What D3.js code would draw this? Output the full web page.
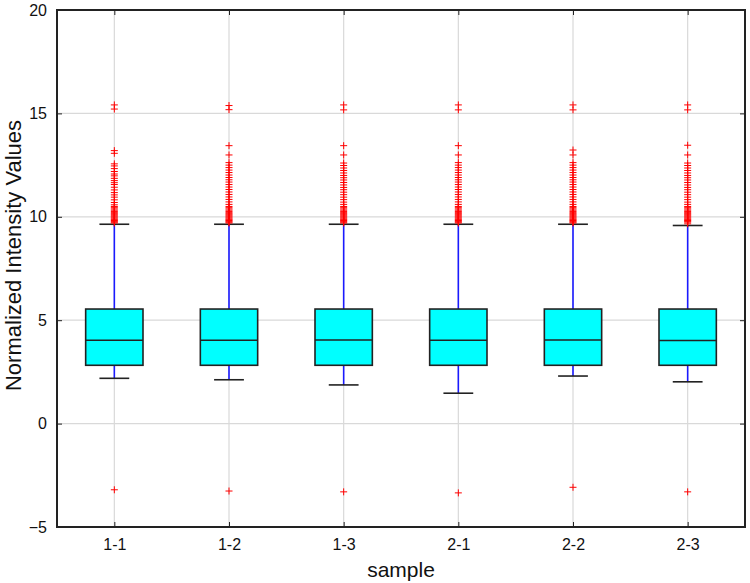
<!DOCTYPE html>
<html>
<head>
<meta charset="utf-8">
<script src="https://cdn.jsdelivr.net/npm/d3@7"></script>
<style>
  html, body { margin: 0; padding: 0; background: #fff; }
  svg text { font-family: Arial, "Liberation Sans", Helvetica, sans-serif; }
</style>
</head>
<body>
<svg id="chart" width="750" height="583"></svg>
<script>
const categories = ["1-1", "1-2", "1-3", "2-1", "2-2", "2-3"];
const q1 =        [2.82, 2.82, 2.82, 2.82, 2.82, 2.82];
const medians =   [4.03, 4.03, 4.04, 4.03, 4.04, 4.02];
const q3 =        [5.54, 5.54, 5.54, 5.54, 5.54, 5.54];
const whiskerLow =  [2.19, 2.12, 1.87, 1.47, 2.30, 2.02];
const whiskerHigh = [9.64, 9.64, 9.64, 9.64, 9.64, 9.58];
const outliersLow = [[-3.20], [-3.26], [-3.30], [-3.35], [-3.08], [-3.30]];
const outliersHigh = [
  [15.41, 15.21, 13.20, 13.07, 12.56, 12.46, 12.33, 12.19, 12.07, 11.98, 11.86, 11.75, 11.65, 11.56, 11.43, 11.30, 11.17, 11.06, 10.95, 10.82, 10.69, 10.58, 10.50, 10.44, 10.38, 10.32, 10.26, 10.20, 10.15, 10.10, 10.05, 10.00, 9.95, 9.90, 9.86, 9.82, 9.78, 9.74, 9.70],
  [15.38, 15.18, 13.44, 12.99, 12.62, 12.50, 12.38, 12.26, 12.14, 12.02, 11.90, 11.79, 11.68, 11.56, 11.44, 11.32, 11.20, 11.08, 10.96, 10.84, 10.72, 10.60, 10.50, 10.44, 10.38, 10.32, 10.26, 10.20, 10.15, 10.10, 10.05, 10.00, 9.95, 9.90, 9.86, 9.82, 9.78, 9.74, 9.70],
  [15.41, 15.17, 13.44, 12.99, 12.60, 12.48, 12.36, 12.24, 12.12, 12.00, 11.89, 11.78, 11.66, 11.54, 11.42, 11.31, 11.19, 11.07, 10.95, 10.83, 10.71, 10.60, 10.50, 10.44, 10.38, 10.32, 10.26, 10.20, 10.15, 10.10, 10.05, 10.00, 9.95, 9.90, 9.86, 9.82, 9.78, 9.74, 9.70],
  [15.41, 15.17, 13.44, 12.99, 12.62, 12.50, 12.38, 12.26, 12.14, 12.02, 11.90, 11.79, 11.68, 11.56, 11.44, 11.32, 11.20, 11.08, 10.96, 10.84, 10.72, 10.60, 10.50, 10.44, 10.38, 10.32, 10.26, 10.20, 10.15, 10.10, 10.05, 10.00, 9.95, 9.90, 9.86, 9.82, 9.78, 9.74, 9.70],
  [15.41, 15.17, 13.23, 12.99, 12.62, 12.50, 12.38, 12.26, 12.14, 12.02, 11.90, 11.79, 11.68, 11.56, 11.44, 11.32, 11.20, 11.08, 10.96, 10.84, 10.72, 10.60, 10.50, 10.44, 10.38, 10.32, 10.26, 10.20, 10.15, 10.10, 10.05, 10.00, 9.95, 9.90, 9.86, 9.82, 9.78, 9.74, 9.70],
  [15.41, 15.17, 13.46, 12.99, 12.60, 12.48, 12.36, 12.24, 12.12, 12.00, 11.89, 11.78, 11.66, 11.54, 11.42, 11.31, 11.19, 11.07, 10.95, 10.83, 10.71, 10.60, 10.50, 10.44, 10.38, 10.32, 10.26, 10.20, 10.15, 10.10, 10.05, 10.00, 9.95, 9.90, 9.86, 9.82, 9.78, 9.74, 9.66]
];
const yTicks = [-5, 0, 5, 10, 15, 20];
const yLabel = "Normalized Intensity Values";
const xLabel = "sample";

const W = 750, H = 583;
const margin = { left: 57, top: 10, right: 5, bottom: 56 };
const svg = d3.select("#chart");
const pw = W - margin.left - margin.right;
const ph = H - margin.top - margin.bottom;

const x = d3.scalePoint().domain(categories).range([0, pw]).padding(0.5);
const step = x.step();
const y = d3.scaleLinear().domain([-5, 20]).range([ph, 0]);

const g = svg.append("g").attr("transform", `translate(${margin.left},${margin.top})`);

// grid
const grid = g.append("g");
grid.selectAll("line.gy").data(yTicks).join("line")
  .attr("x1", 0).attr("x2", pw)
  .attr("y1", d => y(d)).attr("y2", d => y(d))
  .attr("stroke", "#d9d9d9").attr("stroke-width", 1.2);
grid.selectAll("line.gx").data(categories).join("line")
  .attr("x1", d => x(d)).attr("x2", d => x(d))
  .attr("y1", 0).attr("y2", ph)
  .attr("stroke", "#d9d9d9").attr("stroke-width", 1.2);

const boxW = step * 0.5;
const capW = step * 0.26;
const data = categories.map((c, i) => ({
  c, q1: q1[i], med: medians[i], q3: q3[i], lo: whiskerLow[i], hi: whiskerHigh[i],
  outs: outliersHigh[i].concat(outliersLow[i])
}));

const boxes = g.selectAll("g.box").data(data).join("g").attr("class", "box");
// whiskers
boxes.append("line")
  .attr("x1", d => x(d.c)).attr("x2", d => x(d.c))
  .attr("y1", d => y(d.q3)).attr("y2", d => y(d.hi))
  .attr("stroke", "#1a1aff").attr("stroke-width", 1.6);
boxes.append("line")
  .attr("x1", d => x(d.c)).attr("x2", d => x(d.c))
  .attr("y1", d => y(d.q1)).attr("y2", d => y(d.lo))
  .attr("stroke", "#1a1aff").attr("stroke-width", 1.6);
// caps
boxes.append("line")
  .attr("x1", d => x(d.c) - capW / 2).attr("x2", d => x(d.c) + capW / 2)
  .attr("y1", d => y(d.hi)).attr("y2", d => y(d.hi))
  .attr("stroke", "#222").attr("stroke-width", 1.6);
boxes.append("line")
  .attr("x1", d => x(d.c) - capW / 2).attr("x2", d => x(d.c) + capW / 2)
  .attr("y1", d => y(d.lo)).attr("y2", d => y(d.lo))
  .attr("stroke", "#222").attr("stroke-width", 1.6);
// box
boxes.append("rect")
  .attr("x", d => x(d.c) - boxW / 2).attr("width", boxW)
  .attr("y", d => y(d.q3)).attr("height", d => y(d.q1) - y(d.q3))
  .attr("fill", "#00ffff").attr("stroke", "#222").attr("stroke-width", 1.6);
// median
boxes.append("line")
  .attr("x1", d => x(d.c) - boxW / 2).attr("x2", d => x(d.c) + boxW / 2)
  .attr("y1", d => y(d.med)).attr("y2", d => y(d.med))
  .attr("stroke", "#222").attr("stroke-width", 1.6);
// outliers
const cross = 3.5;
boxes.each(function(d) {
  d3.select(this).selectAll("path.out").data(d.outs).join("path")
    .attr("class", "out")
    .attr("d", v => `M${x(d.c) - cross},${y(v)}H${x(d.c) + cross}M${x(d.c)},${y(v) - cross}V${y(v) + cross}`)
    .attr("stroke", "#ff0000").attr("stroke-width", 1).attr("fill", "none");
});

// axes
const axisStyle = sel => {
  sel.select(".domain").remove();
  sel.selectAll(".tick line").attr("stroke", "#222").attr("stroke-width", 1);
  sel.selectAll(".tick text").attr("fill", "#111").style("font-size", "16px");
};
g.append("g").attr("transform", `translate(0,${ph})`)
  .call(d3.axisBottom(x).tickSizeInner(-5).tickSizeOuter(0).tickPadding(12))
  .call(axisStyle);
g.append("g")
  .call(d3.axisLeft(y).tickValues(yTicks).tickFormat(d => d < 0 ? "\u2212" + Math.abs(d) : d).tickSizeInner(-5).tickSizeOuter(0).tickPadding(10))
  .call(axisStyle);
g.append("g")
  .call(d3.axisTop(x).tickSizeInner(-5).tickSizeOuter(0).tickFormat(""))
  .call(axisStyle);
g.append("g").attr("transform", `translate(${pw},0)`)
  .call(d3.axisRight(y).tickValues(yTicks).tickSizeInner(-5).tickSizeOuter(0).tickFormat(""))
  .call(axisStyle);

// frame
g.append("rect").attr("x", 0).attr("y", 0).attr("width", pw).attr("height", ph)
  .attr("fill", "none").attr("stroke", "#222").attr("stroke-width", 2);

// labels
svg.append("text")
  .attr("x", margin.left + pw / 2).attr("y", 577)
  .attr("text-anchor", "middle").style("font-size", "21px").attr("fill", "#111")
  .text(xLabel);
svg.append("text")
  .attr("transform", `translate(21,${margin.top + ph / 2 - 13}) rotate(-90)`)
  .attr("text-anchor", "middle").style("font-size", "22px").attr("fill", "#111")
  .text(yLabel);
</script>
</body>
</html>
